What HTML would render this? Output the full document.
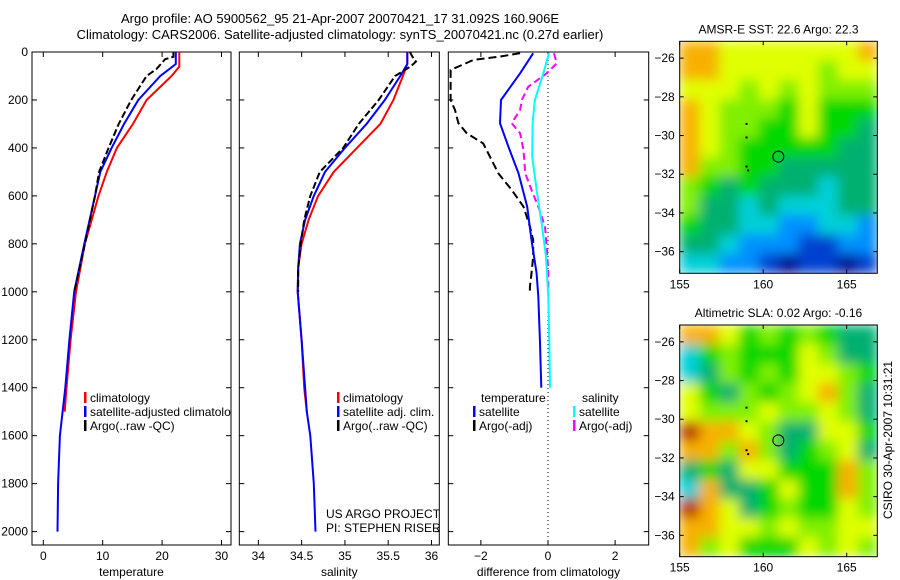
<!DOCTYPE html>
<html><head><meta charset="utf-8"><style>
body{margin:0;background:#fff;}
svg{display:block;font-family:"Liberation Sans",sans-serif;}
text{font-size:12px;fill:#000;}
</style></head><body>
<svg id="fig" width="900" height="580" viewBox="0 0 900 580" xmlns="http://www.w3.org/2000/svg">
<defs>
<filter id="smooth" x="0" y="0" width="1" height="1"><feGaussianBlur stdDeviation="6" edgeMode="duplicate"/></filter>
</defs>
<text x="340" y="23" text-anchor="middle" style="font-size:13px">Argo profile: AO 5900562_95 21-Apr-2007 20070421_17 31.092S 160.906E</text>
<text x="340" y="39" text-anchor="middle" style="font-size:13px">Climatology: CARS2006. Satellite-adjusted climatology: synTS_20070421.nc (0.27d earlier)</text>
<text transform="translate(892,440) rotate(-90)" text-anchor="middle">CSIRO 30-Apr-2007 10:31:21</text>
<g id="plots"></g>
</svg>
<script>
// ---- profile data ----
const depthTempClim = [0,50,61,100,200,300,400,500,600,800,1000,1200,1400,1500];
const tempClim      = [22.9,22.9,22.9,21.6,17.4,15.1,12.4,10.7,9.3,7.0,5.5,4.6,3.9,3.6];
const depthTempSat  = [0,50,100,200,300,400,500,600,800,1000,1200,1400,1600,1800,2000];
const tempSat       = [22.3,22.3,19.7,16.0,13.6,11.5,9.6,8.7,6.9,5.2,4.4,3.7,2.8,2.5,2.4];
const depthTempArgo = [0,20,30,70,100,200,300,400,500,600,800,1000];
const tempArgo      = [21.9,21.9,20.5,19.1,17.4,14.8,12.7,11.0,9.4,8.7,7.0,5.2];

const depthSalClim = [0,50,100,200,300,400,500,600,700,800,900,1000,1200,1400,1500];
const salClim      = [35.72,35.72,35.67,35.56,35.41,35.14,34.87,34.69,34.58,34.50,34.46,34.455,34.50,34.53,34.56];
const depthSalSat  = [0,50,100,200,300,400,500,600,700,800,900,1000,1200,1400,1500,1600,1800,2000];
const salSat       = [35.72,35.72,35.64,35.46,35.25,35.00,34.77,34.64,34.54,34.48,34.46,34.455,34.50,34.54,34.56,34.60,34.64,34.66];
const depthSalArgo = [0,20,40,60,100,200,300,400,500,600,700,800,900,1000];
const salArgo      = [35.75,35.78,35.82,35.76,35.58,35.39,35.16,34.98,34.71,34.60,34.53,34.49,34.46,34.46];

const depthDiffTSat = [5,89,200,297,395,506,645,784,923,1020,1200,1400];
const diffTSat      = [-0.44,-0.83,-1.40,-1.43,-1.18,-0.88,-0.62,-0.49,-0.34,-0.29,-0.24,-0.2];
const depthDiffSSat = [5,89,200,297,436,575,714,853,1020,1200,1400];
const diffSSat      = [0.03,-0.14,-0.39,-0.46,-0.47,-0.34,-0.19,-0.06,0.01,0.04,0.06];
const depthDiffSArgo= [5,47,89,145,200,242,297,339,409,506,575,645,728,812,923,1000];
const diffSArgo     = [0.18,0.26,-0.04,-0.59,-0.78,-0.83,-1.08,-0.83,-0.73,-0.68,-0.49,-0.29,-0.09,-0.04,0.01,0.01];
const depthDiffTArgo= [5,19,33,75,200,242,297,339,381,436,506,575,645,728,784,853,923,979,1000];
const diffTArgo     = [-0.83,-1.43,-2.22,-2.9,-2.9,-2.77,-2.67,-2.42,-1.93,-1.73,-1.48,-1.08,-0.73,-0.54,-0.44,-0.44,-0.49,-0.54,-0.54];

const depthTicks = [0,200,400,600,800,1000,1200,1400,1600,1800,2000];
const tempTicks = [0,10,20,30];
const salTicks = ["34","34.5","35","35.5","36"];
const diffTicks = [-2,0,2];

// ---- map data (colour level 0..9) ----
const sstGrid = [
[8,8,7,7,7,7,7,7,7,8],[8,8,7,7,7,7,7,6,7,7],[7,7,7,6,7,6,7,6,6,6],[8,7,6,6,6,5,7,5,5,5],
[8,7,6,6,5,5,7,5,5,4],[8,7,6,5,5,5,5,5,4,4],[8,6,6,5,5,4,4,4,4,4],[6,5,4,5,4,4,4,3,4,4],
[6,4,4,3,4,3,3,3,4,4],[5,4,4,3,3,2,2,3,3,2],[4,4,3,2,2,2,1,1,2,2],[3,3,2,2,1,0,1,1,0,1]];
const slaGrid = [
[8,8,7,5,6,5,6,5,4,4],[3,5,6,5,5,5,7,6,4,4],[3,4,6,5,6,5,7,7,6,5],[7,5,4,6,5,6,7,8,6,4],
[7,6,6,6,7,6,6,7,6,4],[9,8,8,7,6,4,4,7,7,5],[8,8,6,8,6,4,5,6,7,4],[4,5,4,7,7,5,5,5,8,6],
[3,8,4,4,5,7,5,5,8,6],[9,8,7,4,5,6,5,5,7,6],[8,8,7,7,6,7,6,6,7,7],[8,6,7,5,5,5,7,6,7,6]];
const latTicks = [-26,-28,-30,-32,-34,-36];
const lonTicks = [155,160,165];
const trackLon = [159,159,159,159.1];
const trackLat = [-29.4,-30.1,-31.6,-31.8];
const floatLon = 160.906, floatLat = -31.092;

const NS='http://www.w3.org/2000/svg';
const root=document.getElementById('plots');
function el(tag,attrs,parent){const e=document.createElementNS(NS,tag);for(const k in attrs)e.setAttribute(k,attrs[k]);(parent||root).appendChild(e);return e;}
function txt(x,y,s,anchor,parent){const t=el('text',{x:x,y:y,'text-anchor':anchor||'start'},parent);t.textContent=s;return t;}

const Y0=52, Y1=545, DPX=0.2398;
const yD=d=>Y0+d*DPX;

function panel(name,L,R,xmin,xmax,xticks,label,showYLabels){
  const g=el('g',{});
  
  
  const cid='clip-'+name;
  const cp=el('clipPath',{id:cid},g);el('rect',{x:L,y:Y0,width:R-L,height:Y1-Y0},cp);
  const xs=v=>L+(v-xmin)/(xmax-xmin)*(R-L);
  el('rect',{x:L,y:Y0,width:R-L,height:Y1-Y0,fill:'none',stroke:'#000','stroke-width':1},g);
  depthTicks.forEach(d=>{const y=yD(d);
    el('line',{x1:L,x2:L+5,y1:y,y2:y,stroke:'#000'},g);
    el('line',{x1:R,x2:R-5,y1:y,y2:y,stroke:'#000'},g);
    if(showYLabels){const t=txt(L-4,y+4,String(d),'end',g);}
  });
  xticks.forEach(v=>{const x=xs(+v);
    el('line',{x1:x,x2:x,y1:Y1,y2:Y1-5,stroke:'#000'},g);
    el('line',{x1:x,x2:x,y1:Y0,y2:Y0+5,stroke:'#000'},g);
    const t=txt(x,Y1+15,String(v).replace('-','\u2212'),'middle',g);
    
    
  });
  const xl=txt((L+R)/2,Y1+31,label,'middle',g);
  
  
  const inner=el('g',{'clip-path':'url(#'+cid+')'},g);
  return {g:g,inner:inner,xs:xs,L:L,R:R};
}
function line(p,vals,depths,color,dash,name){
  const pts=vals.map((v,i)=>p.xs(v).toFixed(1)+','+yD(depths[i]).toFixed(1)).join(' ');
  const a={points:pts,fill:'none',stroke:color,'stroke-width':2};
  if(dash)a['stroke-dasharray']=dash;
  const e=el('polyline',a,p.inner);
  
  
}
function legendEntry(p,x,y,color,label,name){
  const g=el('g',{},p.inner);
  
  
  el('rect',{x:x,y:y-10,width:2.5,height:11,fill:color},g);
  txt(x+6,y,label,'start',g);
}

// Panel 1: temperature
const p1=panel('temperature-panel',32,231,-1.9,31.6,tempTicks,'temperature',true);
line(p1,tempClim,depthTempClim,'#ff0000',null,'temp-climatology-line');
line(p1,tempSat,depthTempSat,'#0000ff',null,'temp-satellite-line');
line(p1,tempArgo,depthTempArgo,'#000',"7,3",'temp-argo-line');
legendEntry(p1,84,402,'#ff0000','climatology','legend-climatology');
legendEntry(p1,84,416,'#0000ff','satellite-adjusted climatology','legend-satellite-adjusted');
legendEntry(p1,84,430,'#000','Argo(..raw -QC)','legend-argo');

// Panel 2: salinity
const p2=panel('salinity-panel',239.3,439.3,33.78,36.09,salTicks,'salinity',false);
line(p2,salClim,depthSalClim,'#ff0000',null,'sal-climatology-line');
line(p2,salSat,depthSalSat,'#0000ff',null,'sal-satellite-line');
line(p2,salArgo,depthSalArgo,'#000',"7,3",'sal-argo-line');
legendEntry(p2,337,402,'#ff0000','climatology','legend-sal-climatology');
legendEntry(p2,337,416,'#0000ff','satellite adj. clim.','legend-sal-satellite');
legendEntry(p2,337,430,'#000','Argo(..raw -QC)','legend-sal-argo');
const pr1=txt(326,518,'US ARGO PROJECT','start',p2.inner);


const pr2=txt(326,532,'PI: STEPHEN RISER','start',p2.inner);



// Panel 3: difference
const p3=panel('difference-panel',448.3,648.7,-2.97,3.0,diffTicks,'difference from climatology',false);
el('line',{x1:p3.xs(0),x2:p3.xs(0),y1:Y0,y2:Y1,stroke:'#000','stroke-dasharray':'1,3'},p3.inner);
line(p3,diffTArgo,depthDiffTArgo,'#000',"8,4",'diff-temp-argo-line');
line(p3,diffTSat,depthDiffTSat,'#0000ff',null,'diff-temp-satellite-line');
line(p3,diffSArgo,depthDiffSArgo,'#ff00ff',"7,4",'diff-sal-argo-line');
line(p3,diffSSat,depthDiffSSat,'#00ffff',null,'diff-sal-satellite-line');
txt(481,402,'temperature','start',p3.inner);
txt(582,402,'salinity','start',p3.inner);
legendEntry(p3,473,416,'#0000ff','satellite','legend-diff-temp-satellite');
legendEntry(p3,473,430,'#000','Argo(-adj)','legend-diff-temp-argo');
legendEntry(p3,573,416,'#00ffff','satellite','legend-diff-sal-satellite');
legendEntry(p3,573,430,'#ff00ff','Argo(-adj)','legend-diff-sal-argo');

// Maps
const cmap=['#000090','#0040d0','#0090ff','#00d0d8','#00b070','#00d800','#80f000','#e0ff00','#f8b000','#b83000'];
function mapPanel(name,top,bottom,latTop,grid,title){
  const L=679.7,R=877.3;
  const g=el('g',{});
  
  
  const pxPerDeg=19.35;
  const xs=lon=>L+(lon-155)*16.7;
  const ys=lat=>top+(latTop-lat)*pxPerDeg;
  const rows=grid.length, cols=grid[0].length;
  const cw=(R-L)/cols, ch=(bottom-top)/rows;
  const cid='clip-'+name;
  const cp=el('clipPath',{id:cid},g);el('rect',{x:L,y:top,width:R-L,height:bottom-top},cp);
  const clipG=el('g',{'clip-path':'url(#'+cid+')'},g);
  const cells=el('g',{filter:'url(#smooth)'},clipG);
  grid.forEach((row,r)=>row.forEach((v,c)=>{
    const e=el('rect',{x:L+c*cw,y:top+r*ch,width:cw+0.5,height:ch+0.5,fill:cmap[v]},cells);
    
    
  }));
  el('rect',{x:L,y:top,width:R-L,height:bottom-top,fill:'none',stroke:'#000'},g);
  latTicks.forEach(lat=>{const y=ys(lat);
    el('line',{x1:L,x2:L+4,y1:y,y2:y,stroke:'#000'},g);
    el('line',{x1:R,x2:R-4,y1:y,y2:y,stroke:'#000'},g);
    const t=txt(L-5,y+4,String(lat).replace('-','\u2212'),'end',g);
    
    
  });
  lonTicks.forEach(lon=>{const x=xs(lon);
    el('line',{x1:x,x2:x,y1:bottom,y2:bottom-4,stroke:'#000'},g);
    el('line',{x1:x,x2:x,y1:top,y2:top+4,stroke:'#000'},g);
    const t=txt(x,bottom+15,String(lon),'middle',g);
    
    
  });
  trackLon.forEach((lon,i)=>{
    const e=el('rect',{x:xs(lon)-1,y:ys(trackLat[i])-1,width:2,height:2,fill:'#000'},g);
    
    
  });
  const c=el('circle',{cx:xs(floatLon),cy:ys(floatLat),r:5.5,fill:'none',stroke:'#000'},g);
  
  
  const t=txt((L+R)/2,top-8,title,'middle',g);
  
  
}
mapPanel('sst-map',41.3,273.3,-25.13,sstGrid,'AMSR-E SST: 22.6 Argo: 22.3');
mapPanel('sla-map',325,556.7,-25.13,slaGrid,'Altimetric SLA: 0.02 Argo: -0.16');
</script>
</body></html>
